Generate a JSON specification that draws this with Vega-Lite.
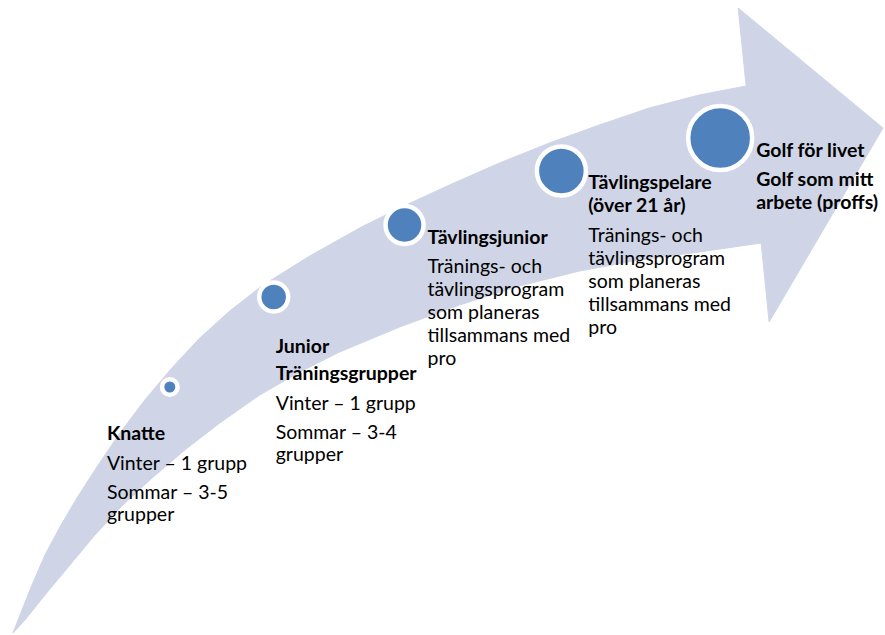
{
  "$schema": "https://vega.github.io/schema/vega-lite/v6.json",
  "width": 885,
  "height": 635,
  "padding": 0,
  "autosize": {"type": "fit", "contains": "padding"},
  "background": "white",
  "config": {"view": {"stroke": null}, "axis": {"disable": true}},
  "datasets": {
    "arrow": [
      {"i": 1, "x": 13, "y": 633},
      {"i": 2, "x": 22, "y": 610},
      {"i": 3, "x": 32, "y": 585},
      {"i": 4, "x": 45, "y": 555},
      {"i": 5, "x": 60, "y": 527},
      {"i": 6, "x": 77, "y": 498},
      {"i": 7, "x": 97, "y": 467},
      {"i": 8, "x": 120, "y": 433},
      {"i": 9, "x": 145, "y": 400},
      {"i": 10, "x": 172, "y": 368},
      {"i": 11, "x": 200, "y": 338},
      {"i": 12, "x": 230, "y": 311},
      {"i": 13, "x": 262, "y": 286},
      {"i": 14, "x": 310, "y": 256},
      {"i": 15, "x": 360, "y": 228},
      {"i": 16, "x": 400, "y": 208},
      {"i": 17, "x": 450, "y": 185},
      {"i": 18, "x": 500, "y": 163},
      {"i": 19, "x": 550, "y": 143},
      {"i": 20, "x": 600, "y": 125},
      {"i": 21, "x": 650, "y": 108},
      {"i": 22, "x": 700, "y": 95},
      {"i": 23, "x": 747, "y": 86},
      {"i": 24, "x": 739, "y": 8},
      {"i": 25, "x": 884, "y": 128},
      {"i": 26, "x": 770, "y": 322},
      {"i": 27, "x": 762, "y": 243},
      {"i": 28, "x": 700, "y": 252},
      {"i": 29, "x": 640, "y": 260},
      {"i": 30, "x": 580, "y": 271},
      {"i": 31, "x": 520, "y": 286},
      {"i": 32, "x": 460, "y": 305},
      {"i": 33, "x": 400, "y": 327},
      {"i": 34, "x": 340, "y": 352},
      {"i": 35, "x": 300, "y": 372},
      {"i": 36, "x": 260, "y": 395},
      {"i": 37, "x": 220, "y": 423},
      {"i": 38, "x": 185, "y": 450},
      {"i": 39, "x": 150, "y": 480},
      {"i": 40, "x": 123, "y": 505},
      {"i": 41, "x": 95, "y": 535},
      {"i": 42, "x": 70, "y": 565},
      {"i": 43, "x": 45, "y": 595},
      {"i": 44, "x": 25, "y": 620},
      {"i": 45, "x": 13, "y": 633}
    ],
    "stages": [
      {"stage": "s1", "x": 170, "y": 387},
      {"stage": "s2", "x": 274, "y": 297},
      {"stage": "s3", "x": 405, "y": 225},
      {"stage": "s4", "x": 562, "y": 171},
      {"stage": "s5", "x": 721, "y": 138}
    ],
    "labels": [
      {"x": 107, "y": 434, "text": "Knatte", "bold": true},
      {"x": 107, "y": 464, "text": "Vinter – 1 grupp", "bold": false},
      {"x": 107, "y": 493, "text": "Sommar – 3-5", "bold": false},
      {"x": 107, "y": 515, "text": "grupper", "bold": false},
      {"x": 276, "y": 347, "text": "Junior", "bold": true},
      {"x": 276, "y": 374, "text": "Träningsgrupper", "bold": true},
      {"x": 276, "y": 404, "text": "Vinter – 1 grupp", "bold": false},
      {"x": 276, "y": 433, "text": "Sommar – 3-4", "bold": false},
      {"x": 276, "y": 455, "text": "grupper", "bold": false},
      {"x": 428, "y": 238, "text": "Tävlingsjunior", "bold": true},
      {"x": 428, "y": 267, "text": "Tränings- och", "bold": false},
      {"x": 428, "y": 290, "text": "tävlingsprogram", "bold": false},
      {"x": 428, "y": 313, "text": "som planeras", "bold": false},
      {"x": 428, "y": 336, "text": "tillsammans med", "bold": false},
      {"x": 428, "y": 359, "text": "pro", "bold": false},
      {"x": 589, "y": 183, "text": "Tävlingspelare", "bold": true},
      {"x": 589, "y": 206, "text": "(över 21 år)", "bold": true},
      {"x": 589, "y": 236, "text": "Tränings- och", "bold": false},
      {"x": 589, "y": 259, "text": "tävlingsprogram", "bold": false},
      {"x": 589, "y": 282, "text": "som planeras", "bold": false},
      {"x": 589, "y": 305, "text": "tillsammans med", "bold": false},
      {"x": 589, "y": 328, "text": "pro", "bold": false},
      {"x": 757, "y": 151, "text": "Golf för livet", "bold": true},
      {"x": 757, "y": 180, "text": "Golf som mitt", "bold": true},
      {"x": 757, "y": 203, "text": "arbete (proffs)", "bold": true}
    ]
  },
  "encoding": {
    "x": {"field": "x", "type": "quantitative", "scale": {"domain": [0, 885], "nice": false, "zero": false}, "axis": null},
    "y": {"field": "y", "type": "quantitative", "scale": {"domain": [0, 635], "nice": false, "zero": false, "reverse": true}, "axis": null}
  },
  "layer": [
    {
      "data": {"name": "arrow"},
      "mark": {"type": "line", "fill": "#cfd5e7", "stroke": "#cfd5e7", "strokeWidth": 1, "interpolate": "linear"},
      "encoding": {"order": {"field": "i", "type": "quantitative"}}
    },
    {
      "data": {"name": "stages"},
      "mark": {"type": "point", "shape": "circle", "filled": true, "fill": "#4f81bd", "stroke": "white", "strokeWidth": 4.5, "opacity": 1},
      "encoding": {
        "size": {"field": "stage", "type": "nominal", "scale": {"type": "ordinal", "domain": ["s1", "s2", "s3", "s4", "s5"], "range": [240, 841, 1444, 2401, 4096]}, "legend": null}
      }
    },
    {
      "data": {"name": "labels"},
      "transform": [{"filter": "!datum.bold"}],
      "mark": {"type": "text", "align": "left", "baseline": "middle", "font": "Lato", "fontSize": 19.5, "color": "black"},
      "encoding": {"text": {"field": "text"}}
    },
    {
      "data": {"name": "labels"},
      "transform": [{"filter": "datum.bold"}],
      "mark": {"type": "text", "align": "left", "baseline": "middle", "font": "Lato", "fontSize": 19.5, "fontWeight": "bold", "color": "black"},
      "encoding": {"text": {"field": "text"}}
    }
  ]
}
